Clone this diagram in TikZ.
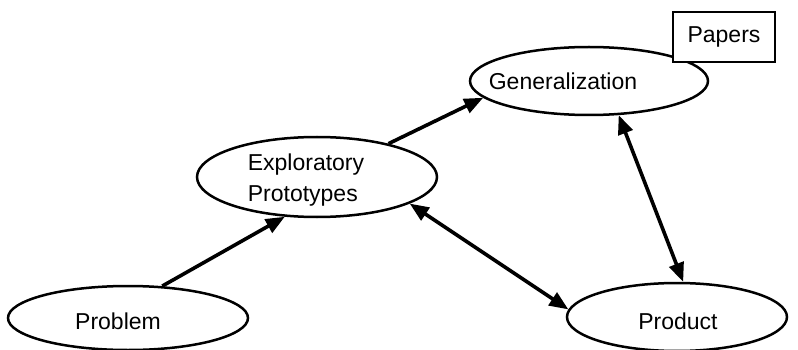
\documentclass[tikz,border=0pt]{standalone}
\usepackage{fontspec}
\setmainfont{Liberation Sans}
\usetikzlibrary{shapes.geometric,arrows.meta}
\begin{document}
\begin{tikzpicture}[x=1pt,y=-1pt,
  oval/.style={ellipse,draw,line width=2.5pt,fill=white,inner sep=0pt},
  lbl/.style={font=\fontsize{23}{31}\selectfont,inner sep=0pt,align=left},
  flow/.style={line width=3.6pt,-{Triangle[length=19pt,width=15pt]}},
  twoway/.style={line width=3.6pt,{Triangle[length=19pt,width=15pt]}-{Triangle[length=19pt,width=15pt]}},
  paper/.style={draw,line width=2.5pt,fill=white,minimum width=102pt,minimum height=50pt,inner sep=0pt}]
\useasboundingbox (0,0) rectangle (798,350);

% stages of the research cycle
\node[oval,minimum width=240pt,minimum height=64pt] (prob) at (128,318) {};
\node[oval,minimum width=240pt,minimum height=80pt] (expl) at (317,177) {};
\node[oval,minimum width=238pt,minimum height=68pt] (gen)  at (589,81)  {};
\node[oval,minimum width=220pt,minimum height=68pt] (prod) at (677,317) {};

\node[lbl] (probt) at (118,321) {Problem};
\node[lbl] (explt) at (306,180) {Exploratory\\Prototypes};
\node[lbl] (gent)  at (563,81)  {Generalization};
\node[lbl] (prodt) at (678,321) {Product};

% output of the generalization step
\node[paper,lbl] (pap) at (724,37) {Papers};

% transitions
\draw[flow]   (prob.43)  -- (expl.231);
\draw[flow]   (expl.25)  -- (gen.189);
\draw[twoway] (expl.-16.5) -- (prod.176);
\draw[twoway] (gen.-49)  -- (prod.80);
\end{tikzpicture}
\end{document}
